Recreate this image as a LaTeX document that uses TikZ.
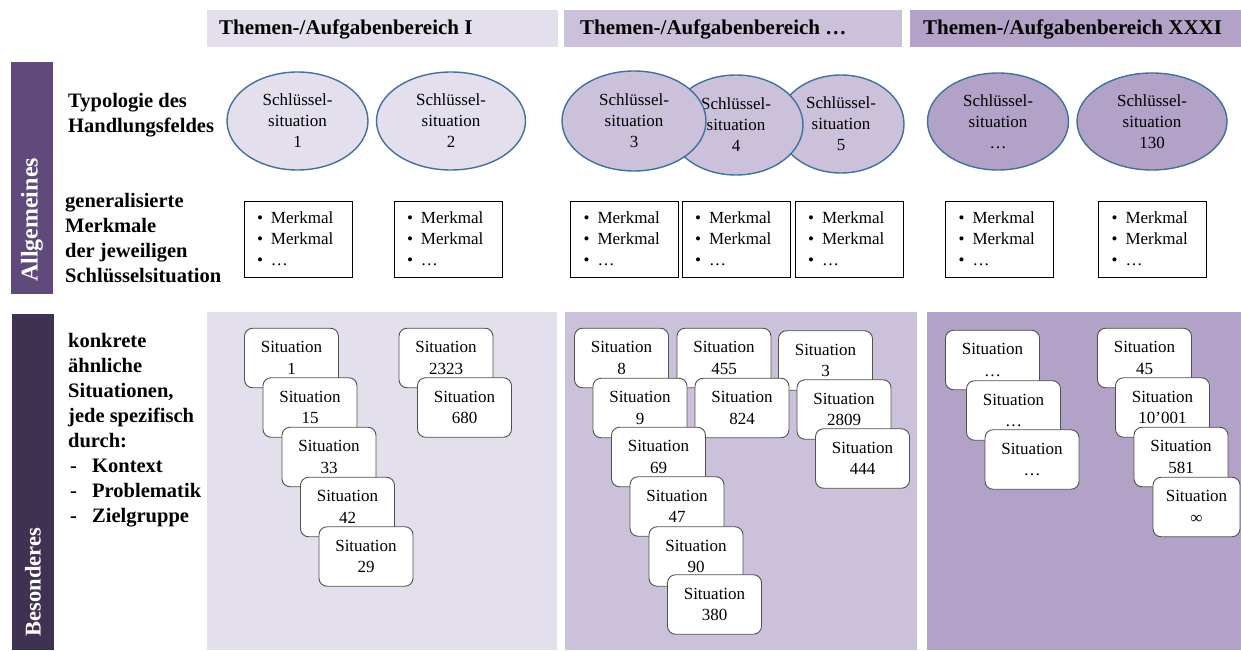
\documentclass[tikz,border=0pt]{standalone}
\usepackage{fontspec}
\setmainfont{Liberation Serif}
\usetikzlibrary{shapes.geometric}
\definecolor{lavA}{HTML}{E4DFEC}
\definecolor{lavB}{HTML}{CCC1DA}
\definecolor{lavC}{HTML}{B3A2C7}
\definecolor{barA}{HTML}{604A7B}
\definecolor{barB}{HTML}{3F3151}
\definecolor{ellline}{HTML}{41719C}
\definecolor{sitline}{HTML}{505050}
\newcommand{\mybul}{\makebox[14pt][l]{\textbullet}}
\begin{document}
\begin{tikzpicture}[x=1pt,y=-1pt,
  hdr/.style={anchor=base west, font=\fontsize{21}{25}\bfseries\selectfont, inner sep=0pt},
  lbl/.style={anchor=base west, font=\fontsize{20.5}{25}\bfseries\selectfont, inner sep=0pt},
  vlbl/.style={rotate=90, text=white, inner sep=0pt},
  keysit/.style={ellipse, draw=ellline, line width=1.4pt, inner sep=0pt, align=center, font=\fontsize{17}{21}\selectfont},
  mbox/.style={draw=black, line width=0.8pt, fill=white, minimum width=108pt, minimum height=76pt, text width=82pt, inner xsep=13pt, inner ysep=0pt, align=left, font=\fontsize{17}{21}\selectfont},
  sit/.style={draw=sitline, line width=0.9pt, fill=white, rounded corners=8pt, minimum width=94pt, minimum height=59.5pt, inner sep=0pt, align=center, font=\fontsize{17}{21.5}\selectfont},
]
\useasboundingbox (0,0) rectangle (1241,650);
\fill[white] (0,0) rectangle (1241,650);
% header bars
\fill[lavA] (207,10) rectangle (558,47);
\fill[lavB] (564,10) rectangle (902,47);
\fill[lavC] (910,10) rectangle (1241,47);
\node[hdr] (h1) at (219,35) {Themen-/Aufgabenbereich I};
\node[hdr] (h2) at (580,35) {Themen-/Aufgabenbereich …};
\node[hdr] (h3) at (923,35) {Themen-/Aufgabenbereich XXXI};
% side bars
\fill[barA] (11,62) rectangle (53,294);
\fill[barB] (12,314) rectangle (54,650);
\node[vlbl, font=\fontsize{24}{28}\bfseries\selectfont] (va) at (32,220) {Allgemeines};
\node[vlbl, font=\fontsize{22.5}{26}\bfseries\selectfont] (vb) at (33,582) {Besonderes};
% panels
\fill[lavA] (207,312) rectangle (557,650);
\fill[lavB] (565,312) rectangle (917,650);
\fill[lavC] (927,312) rectangle (1241,650);
% left labels
\node[lbl] (t1) at (68,107) {Typologie des};
\node[lbl] (t2) at (68,132) {Handlungsfeldes};
\node[lbl] (g1) at (65,207) {generalisierte};
\node[lbl] (g2) at (65,232) {Merkmale};
\node[lbl] (g3) at (65,257) {der jeweiligen};
\node[lbl] (g4) at (65,282) {Schlüsselsituation};
\node[lbl] (c1) at (68,347) {konkrete};
\node[lbl] (c2) at (68,372) {ähnliche};
\node[lbl] (c3) at (68,397) {Situationen,};
\node[lbl] (c4) at (68,422) {jede spezifisch};
\node[lbl] (c5) at (68,447) {durch:};
\node[lbl] (d1) at (70,472) {-};
\node[lbl] (e1) at (92,472) {Kontext};
\node[lbl] (d2) at (70,497) {-};
\node[lbl] (e2) at (92,497) {Problematik};
\node[lbl] (d3) at (70,522) {-};
\node[lbl] (e3) at (92,522) {Zielgruppe};
% key situations
\node[keysit, fill=lavA, minimum width=141pt, minimum height=98pt] (k1) at (297.5,121) {Schlüssel-\\situation\\1};
\node[keysit, fill=lavA, minimum width=149pt, minimum height=98pt] (k2) at (451,121) {Schlüssel-\\situation\\2};
\node[keysit, fill=lavB, minimum width=126pt, minimum height=98pt] (k5) at (841,124) {Schlüssel-\\situation\\5};
\node[keysit, fill=lavB, minimum width=134pt, minimum height=100pt] (k4) at (736,125) {Schlüssel-\\situation\\4};
\node[keysit, fill=lavB, minimum width=144pt, minimum height=100pt] (k3) at (634,121) {Schlüssel-\\situation\\3};
\node[keysit, fill=lavC, minimum width=141pt, minimum height=97pt] (k6) at (998,121.5) {Schlüssel-\\situation\\…};
\node[keysit, fill=lavC, minimum width=150pt, minimum height=97pt] (k7) at (1152,121.5) {Schlüssel-\\situation\\130};
% Merkmal boxes
\node[mbox] (m1) at (298,239) {\mybul Merkmal\\\mybul Merkmal\\\mybul …};
\node[mbox] (m2) at (448,239) {\mybul Merkmal\\\mybul Merkmal\\\mybul …};
\node[mbox] (m3) at (624.5,239) {\mybul Merkmal\\\mybul Merkmal\\\mybul …};
\node[mbox] (m4) at (736,239) {\mybul Merkmal\\\mybul Merkmal\\\mybul …};
\node[mbox] (m5) at (849,239) {\mybul Merkmal\\\mybul Merkmal\\\mybul …};
\node[mbox] (m6) at (999.5,239) {\mybul Merkmal\\\mybul Merkmal\\\mybul …};
\node[mbox] (m7) at (1152.5,239) {\mybul Merkmal\\\mybul Merkmal\\\mybul …};
% situations panel 1
\node[sit] (s1) at (291.5,358) {Situation\\1};
\node[sit] (s15) at (310,407.5) {Situation\\15};
\node[sit] (s33) at (329,457) {Situation\\33};
\node[sit] (s42) at (347.5,507) {Situation\\42};
\node[sit] (s29) at (366,556.5) {Situation\\29};
\node[sit] (s2323) at (446,358) {Situation\\2323};
\node[sit] (s680) at (464.5,407.5) {Situation\\680};
% situations panel 2
\node[sit] (s3) at (825.5,360.5) {Situation\\3};
\node[sit] (s2809) at (844,409.5) {Situation\\2809};
\node[sit] (s444) at (862.5,458.5) {Situation\\444};
\node[sit] (s8) at (621.5,358) {Situation\\8};
\node[sit] (s455) at (724,358) {Situation\\455};
\node[sit] (s9) at (640,408) {Situation\\9};
\node[sit] (s824) at (742,408) {Situation\\824};
\node[sit] (s69) at (658.5,457) {Situation\\69};
\node[sit] (s47) at (677,506.5) {Situation\\47};
\node[sit] (s90) at (696,556.5) {Situation\\90};
\node[sit] (s380) at (714.5,604.5) {Situation\\380};
% situations panel 3
\node[sit] (sa) at (992.5,360) {Situation\\…};
\node[sit] (sb) at (1013.5,410.5) {Situation\\…};
\node[sit] (sc) at (1032,459.5) {Situation\\…};
\node[sit] (s45) at (1144.5,358) {Situation\\45};
\node[sit] (s10001) at (1162.5,407.5) {Situation\\10’001};
\node[sit] (s581) at (1181,457) {Situation\\581};
\node[sit, minimum width=87pt] (sinf) at (1196.5,507) {Situation\\∞};
\end{tikzpicture}
\end{document}
